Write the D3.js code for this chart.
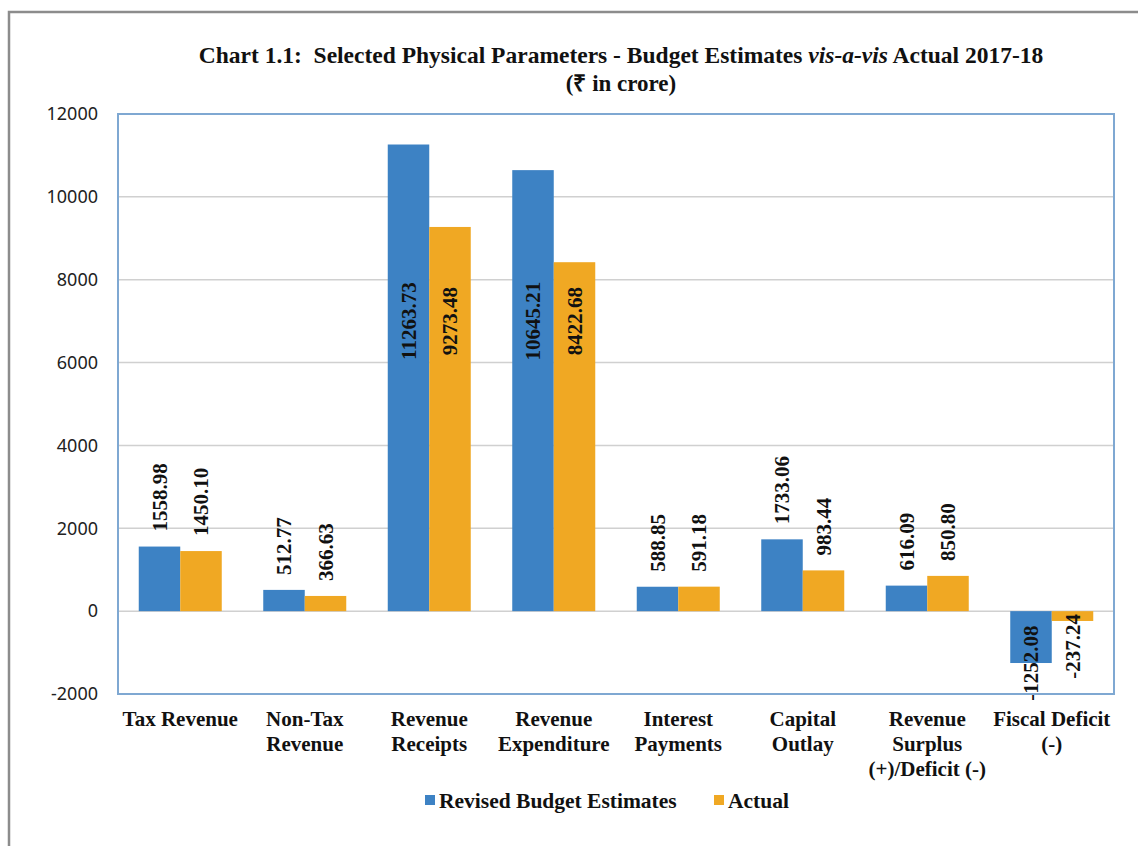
<!DOCTYPE html>
<html>
<head>
<meta charset="utf-8">
<script src="https://cdn.jsdelivr.net/npm/d3@7"></script>
<style>
  body { margin: 0; background: #fff; }
  svg { display: block; }
</style>
</head>
<body>
<svg id="chart"></svg>
<script>
const categories = [
  ['Tax Revenue'],
  ['Non-Tax', 'Revenue'],
  ['Revenue', 'Receipts'],
  ['Revenue', 'Expenditure'],
  ['Interest', 'Payments'],
  ['Capital', 'Outlay'],
  ['Revenue', 'Surplus', '(+)/Deficit (-)'],
  ['Fiscal Deficit', '(-)']
];
const seriesNames = ['Revised Budget Estimates', 'Actual'];
const revisedBE = [1558.98, 512.77, 11263.73, 10645.21, 588.85, 1733.06, 616.09, -1252.08];
const actual = [1450.10, 366.63, 9273.48, 8422.68, 591.18, 983.44, 850.80, -237.24];
const yTicks = [-2000, 0, 2000, 4000, 6000, 8000, 10000, 12000];
const colors = ['#3d82c4', '#f0a823'];

const W = 1138, H = 846;
const margin = { top: 114, right: 24, bottom: 152, left: 118 };
const width = W - margin.left - margin.right;
const height = H - margin.top - margin.bottom;
const serif = "'Liberation Serif', 'Times New Roman', serif";

const svg = d3.select('#chart').attr('width', W).attr('height', H);

// outer frame
svg.append('path')
  .attr('d', `M9,${H} V12 H${W}`)
  .attr('fill', 'none')
  .attr('stroke', '#8c8c8c')
  .attr('stroke-width', 2.5);

// title
const title = svg.append('text')
  .attr('x', 621)
  .attr('y', 63)
  .attr('text-anchor', 'middle')
  .style('white-space', 'pre')
  .style('font-family', serif)
  .style('font-weight', 'bold')
  .style('font-size', '23.5px')
  .style('fill', '#111');
title.append('tspan').text('Chart 1.1:  Selected Physical Parameters - Budget Estimates ');
title.append('tspan').style('font-style', 'italic').text('vis-a-vis');
title.append('tspan').text(' Actual 2017-18');
svg.append('text')
  .attr('x', 621)
  .attr('y', 91)
  .attr('text-anchor', 'middle')
  .style('font-family', serif)
  .style('font-weight', 'bold')
  .style('font-size', '23px')
  .style('fill', '#111')
  .text('(\u20B9 in crore)');

const g = svg.append('g')
  .attr('transform', `translate(${margin.left},${margin.top})`);

const x0 = d3.scaleBand()
  .domain(d3.range(categories.length))
  .range([0, width])
  .paddingInner(1 / 3)
  .paddingOuter(1 / 6);

const x1 = d3.scaleBand()
  .domain([0, 1])
  .range([0, x0.bandwidth()]);

const y = d3.scaleLinear()
  .domain([-2000, 12000])
  .range([height, 0]);

// grid lines
g.selectAll('line.grid')
  .data(yTicks)
  .enter()
  .append('line')
  .attr('class', 'grid')
  .attr('x1', 0)
  .attr('x2', width)
  .attr('y1', d => y(d))
  .attr('y2', d => y(d))
  .style('stroke', '#d0d0d0')
  .style('stroke-width', 1.5);

// y axis
const yAxis = d3.axisLeft(y)
  .tickValues(yTicks)
  .tickSize(0)
  .tickPadding(20)
  .tickFormat(d => String(d));
g.append('g')
  .call(yAxis)
  .call(s => s.select('.domain').remove())
  .selectAll('text')
  .style('font-family', "'Noto Sans', 'Open Sans', sans-serif")
  .style('font-size', '18px')
  .style('fill', '#222');

// bars
const rows = categories.map((c, i) => [revisedBE[i], actual[i]]);
const groups = g.selectAll('.group')
  .data(rows)
  .enter()
  .append('g')
  .attr('transform', (d, i) => `translate(${x0(i)},0)`);

groups.selectAll('rect')
  .data(d => d.map((v, k) => ({ v, k })))
  .enter()
  .append('rect')
  .attr('x', d => x1(d.k))
  .attr('width', x1.bandwidth())
  .attr('y', d => y(Math.max(0, d.v)))
  .attr('height', d => Math.abs(y(d.v) - y(0)))
  .style('fill', d => colors[d.k]);

// value labels, rotated
groups.selectAll('.label')
  .data(d => d.map((v, k) => ({ v, k })))
  .enter()
  .append('text')
  .attr('class', 'label')
  .attr('transform', d => {
    const cx = x1(d.k) + x1.bandwidth() / 2;
    let yy;
    if (d.v >= 0) {
      // outside end unless it would run off the top, then inside
      yy = d.v > 5000 ? y(7000) : y(d.v) - 15;
    } else {
      yy = Math.max(y(d.v), y(-850));
    }
    return `translate(${cx},${yy}) rotate(-90)`;
  })
  .attr('dy', '0.35em')
  .attr('text-anchor', d => (d.v >= 0 && d.v <= 5000) ? 'start' : 'middle')
  .style('font-family', serif)
  .style('font-weight', 'bold')
  .style('font-size', '21px')
  .style('fill', '#111')
  .text(d => d.v.toFixed(2));

// plot area border
g.append('rect')
  .attr('width', width)
  .attr('height', height)
  .attr('fill', 'none')
  .style('stroke', '#7fa8d2')
  .style('stroke-width', 2);

// x axis labels
const xAxis = d3.axisBottom(x0)
  .tickSize(0)
  .tickFormat('');
const xg = g.append('g')
  .attr('transform', `translate(0,${height})`)
  .call(xAxis);
xg.select('.domain').remove();
xg.selectAll('.tick')
  .append('text')
  .attr('text-anchor', 'middle')
  .style('font-family', serif)
  .style('font-weight', 'bold')
  .style('font-size', '21px')
  .style('fill', '#111')
  .selectAll('tspan')
  .data(i => categories[i])
  .enter()
  .append('tspan')
  .attr('x', 0)
  .attr('y', (d, j) => 32 + j * 25)
  .text(d => d);

// legend
const legend = svg.append('g').attr('transform', 'translate(425,808)');
const legendX = [0, 289];
seriesNames.forEach((name, k) => {
  const item = legend.append('g').attr('transform', `translate(${legendX[k]},0)`);
  item.append('rect')
    .attr('x', 0)
    .attr('y', -13)
    .attr('width', 10)
    .attr('height', 10)
    .style('fill', colors[k]);
  item.append('text')
    .attr('x', 14)
    .attr('y', 0)
    .style('font-family', serif)
    .style('font-weight', 'bold')
    .style('font-size', '21.5px')
    .style('fill', '#111')
    .text(name);
});
</script>
</body>
</html>
